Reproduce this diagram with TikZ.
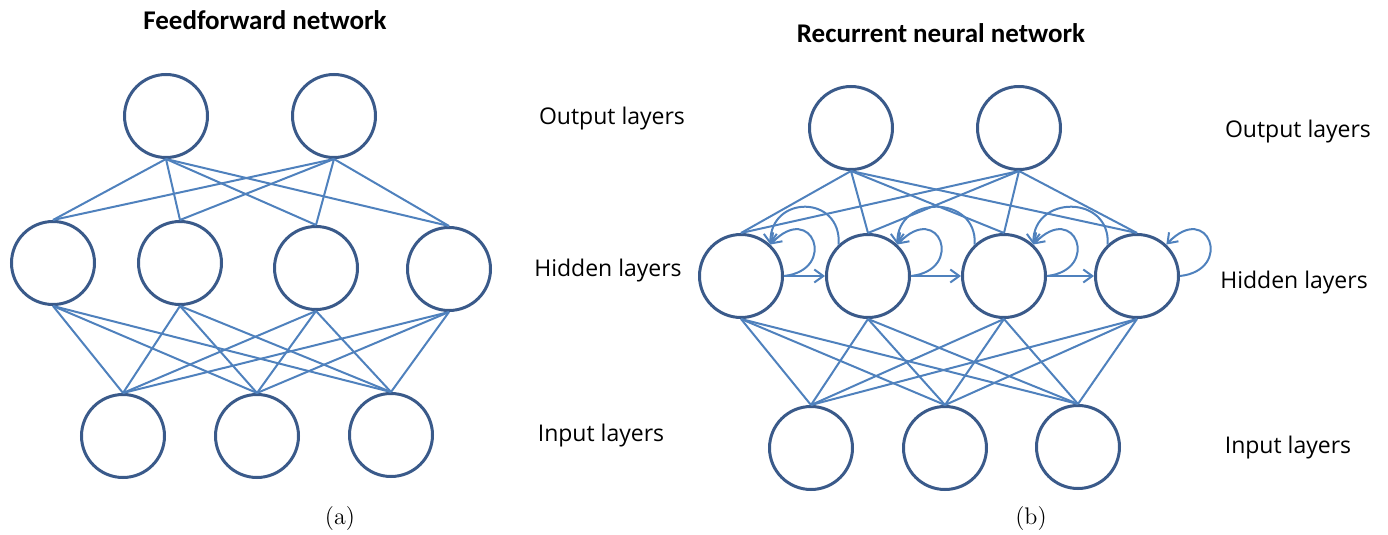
\documentclass[tikz,border=0pt]{standalone}
\usepackage{fontspec}
\newfontfamily\titlefont{Carlito}
\newfontfamily\labelfont{Open Sans}
\usetikzlibrary{arrows.meta}
\definecolor{circ}{RGB}{58,90,138}
\definecolor{edge}{RGB}{79,129,189}
\begin{document}
\begin{tikzpicture}[x=0.5pt,y=-0.5pt,
  neuron/.style={circle,draw=circ,line width=1.5pt,minimum size=41.5pt,inner sep=0pt},
  link/.style={draw=edge,line width=1pt},
  rec/.style={draw=edge,line width=1pt,-{Straight Barb[length=4.5pt,width=6.5pt]}},
  ttl/.style={font=\titlefont\bfseries\fontsize{13.5}{16}\selectfont},
  lbl/.style={font=\labelfont\fontsize{11.5}{14}\selectfont},
  subcap/.style={font=\fontsize{12}{14}\selectfont}]
\useasboundingbox (0,0) rectangle (1388,535);
% ---------- panel (a) ----------
\node[ttl] (ta) at (265,20) {Feedforward network};
\node[neuron] (ao1) at (166,116) {};
\node[neuron] (ao2) at (334,116) {};
\node[neuron] (ah1) at (53,263) {};
\node[neuron] (ah2) at (180,263) {};
\node[neuron] (ah3) at (316,268) {};
\node[neuron] (ah4) at (449,269) {};
\node[neuron] (ai1) at (123,436) {};
\node[neuron] (ai2) at (257,436) {};
\node[neuron] (ai3) at (391,435) {};
\foreach \o in {ao1,ao2}{\foreach \h in {ah1,ah2,ah3,ah4}{\draw[link] (\o.south) -- (\h.north);}}
\foreach \h in {ah1,ah2,ah3,ah4}{\foreach \i in {ai1,ai2,ai3}{\draw[link] (\h.south) -- (\i.north);}}
\node[lbl] (aol) at (612,119) {Output layers};
\node[lbl] (ahl) at (608,271) {Hidden layers};
\node[lbl] (ail) at (601,436) {Input layers};
\node[subcap] (capa) at (340,519) {(a)};
% ---------- panel (b) ----------
\node[ttl] (tb) at (941,33) {Recurrent neural network};
\node[neuron] (bo1) at (851,128) {};
\node[neuron] (bo2) at (1019,128) {};
\node[neuron] (bh1) at (741,276) {};
\node[neuron] (bh2) at (868,276) {};
\node[neuron] (bh3) at (1004,276) {};
\node[neuron] (bh4) at (1137,276) {};
\node[neuron] (bi1) at (811,448) {};
\node[neuron] (bi2) at (945,448) {};
\node[neuron] (bi3) at (1078,447) {};
\foreach \o in {bo1,bo2}{\foreach \h in {bh1,bh2,bh3,bh4}{\draw[link] (\o.south) -- (\h.north);}}
\foreach \h in {bh1,bh2,bh3,bh4}{\foreach \i in {bi1,bi2,bi3}{\draw[link] (\h.south) -- (\i.north);}}
% forward recurrent arrows
\draw[rec] (bh1.east) -- (bh2.west);
\draw[rec] (bh2.east) -- (bh3.west);
\draw[rec] (bh3.east) -- (bh4.west);
% self loops
\foreach \h in {bh1,bh2,bh3,bh4}{
  \draw[rec] (\h.east) .. controls +(54,-6) and +(42,-44) .. (\h.47);}
% backward arcs
\draw[rec] (bh2.133) .. controls +(3,-50) and +(0,-50) .. (bh1.47);
\draw[rec] (bh3.133) .. controls +(3,-50) and +(0,-50) .. (bh2.47);
\draw[rec] (bh4.133) .. controls +(3,-50) and +(0,-50) .. (bh3.47);
\node[lbl] (bol) at (1298,132) {Output layers};
\node[lbl] (bhl) at (1294,283) {Hidden layers};
\node[lbl] (bil) at (1288,448) {Input layers};
\node[subcap] (capb) at (1031,519) {(b)};
\end{tikzpicture}
\end{document}
